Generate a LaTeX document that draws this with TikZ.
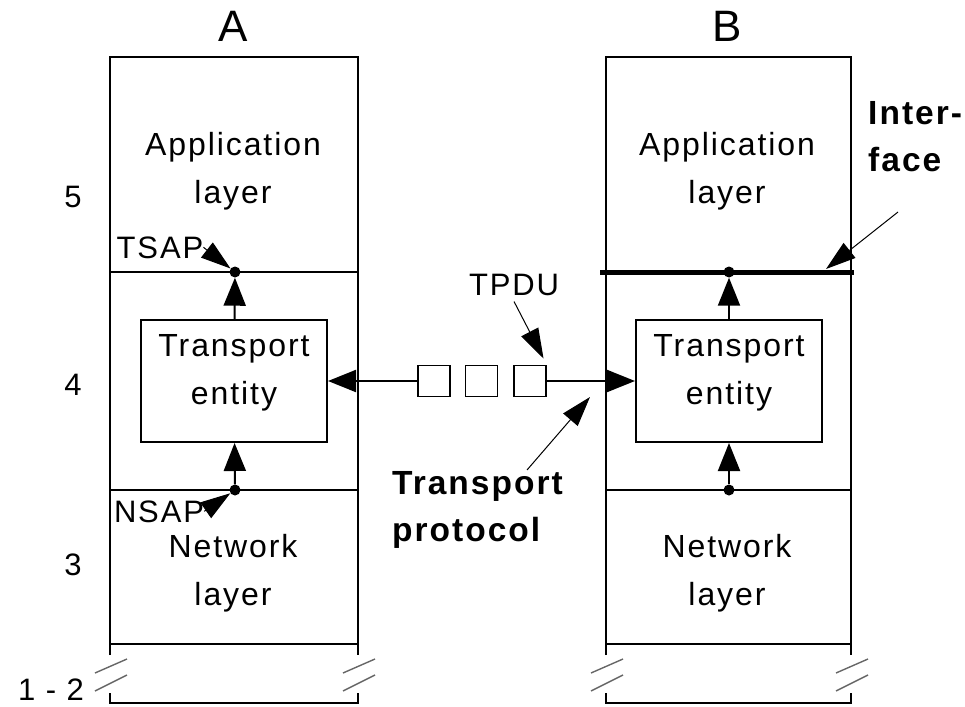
\documentclass[tikz,border=0pt]{standalone}
\usepackage{fontspec}
\setmainfont[LetterSpace=6]{Liberation Sans}
\usetikzlibrary{arrows.meta,positioning}

\begin{document}
\begin{tikzpicture}[x=1pt,y=-1pt,
    wall/.style={line width=2pt},
    brk/.style={line width=1.4pt,black!60},
    txt/.style={inner sep=0pt,align=center,font=\fontsize{32}{48}\selectfont},
    bold/.style={inner sep=0pt,align=left,font=\fontsize{33.5}{47}\selectfont\bfseries},
    small/.style={inner sep=0pt,font=\fontsize{31}{36}\selectfont},
    entity/.style={draw,line width=2pt,minimum width=186pt,minimum height=122pt,inner sep=0pt},
    pdu/.style={draw,line width=1.5pt,minimum width=32pt,minimum height=31pt,inner sep=0pt},
    dot/.style={circle,fill,inner sep=0pt,minimum size=11pt},
    bigarr/.style={line width=2pt,-{Triangle[length=28pt,width=22pt]}},
    ptr/.style={line width=1pt,-{Triangle[length=30pt,width=19pt]}}]
    \useasboundingbox (0,0) rectangle (965,706);

    \foreach \l/\r in {110/358,606/851} {
        \draw[wall] (\l,655) -- (\l,57) -- (\r,57) -- (\r,655);
        \draw[wall] (\l,693) -- (\l,703) -- (\r,703) -- (\r,693);
        \draw[wall] (\l,490) -- (\r,490);
        \draw[wall] (\l,644) -- (\r,644);
    }
    \draw[wall] (110,272) -- (358,272);
    \draw[line width=5pt] (600,272) -- (854,272);
    \foreach \w in {110,358,606,851}
        \draw[brk] (\w-15,673) -- (\w+17,659) (\w-15,691) -- (\w+17,675);

    \node[inner sep=0pt,font=\fontsize{44}{50}\selectfont,anchor=base] (hostA) at (233,42) {A};
    \node[inner sep=0pt,font=\fontsize{44}{50}\selectfont,anchor=base] (hostB) at (727,42) {B};
    \node[small,anchor=base] (l5) at (73,207) {5};
    \node[small,anchor=base] (l4) at (73,395) {4};
    \node[small,anchor=base] (l3) at (73,575) {3};
    \node[small,anchor=base] (l12) at (51,700) {1 - 2};

    \node[txt] (appA) at (233,171) {Application\\layer};
    \node[txt] (appB) at (727,171) {Application\\layer};
    \node[txt] (netA) at (233,573) {Network\\layer};
    \node[txt] (netB) at (727,573) {Network\\layer};

    \node[entity] (entA) at (234,381) {};
    \node[entity] (entB) at (729,381) {};
    \node[txt] (entAtxt) at (234,373) {Transport\\entity};
    \node[txt] (entBtxt) at (729,373) {Transport\\entity};

    \node[dot] (tsapA) at (235,272) {};
    \node[dot] (nsapA) at (235,490) {};
    \node[dot] (tsapB) at (729,272) {};
    \node[dot] (nsapB) at (729,490) {};
    \draw[bigarr] (entA) -- (tsapA);
    \draw[bigarr] (nsapA) -- (entA);
    \draw[bigarr] (entB) -- (tsapB);
    \draw[bigarr] (nsapB) -- (entB);

    \node[pdu] (pdu1) at (434,381) {};
    \node[pdu, right=14pt of pdu1] (pdu2) {};
    \node[pdu, right=15pt of pdu2] (pdu3) {};
    \draw[bigarr] (pdu1) -- (entA);
    \draw[bigarr] (pdu3) -- (entB);

    \node[small,anchor=base] (tsapLbl) at (160,258) {TSAP};
    \node[small,anchor=base] (nsapLbl) at (159,522) {NSAP};
    \node[small,anchor=base] (tpduLbl) at (514,295) {TPDU};
    \draw[ptr] (tsapLbl.east) -- (tsapA);
    \draw[ptr] (nsapLbl.east) -- (nsapA);
    \draw[ptr, shorten >=7pt] ([yshift=-6pt]tpduLbl.south) -- (pdu3.north east);

    \node[bold,anchor=west] (proto) at (392,510) {Transport\\protocol};
    \coordinate (protoTail) at (527,470);
    \coordinate (protoTip) at (590,397);
    \draw[ptr] (protoTail) -- (protoTip);

    \node[bold,anchor=west] (iface) at (868,137) {Inter-\\face};
    \coordinate (ifaceTail) at (898,212);
    \coordinate (ifaceTip) at (826,269);
    \draw[ptr] (ifaceTail) -- (ifaceTip);
\end{tikzpicture}
\end{document}
